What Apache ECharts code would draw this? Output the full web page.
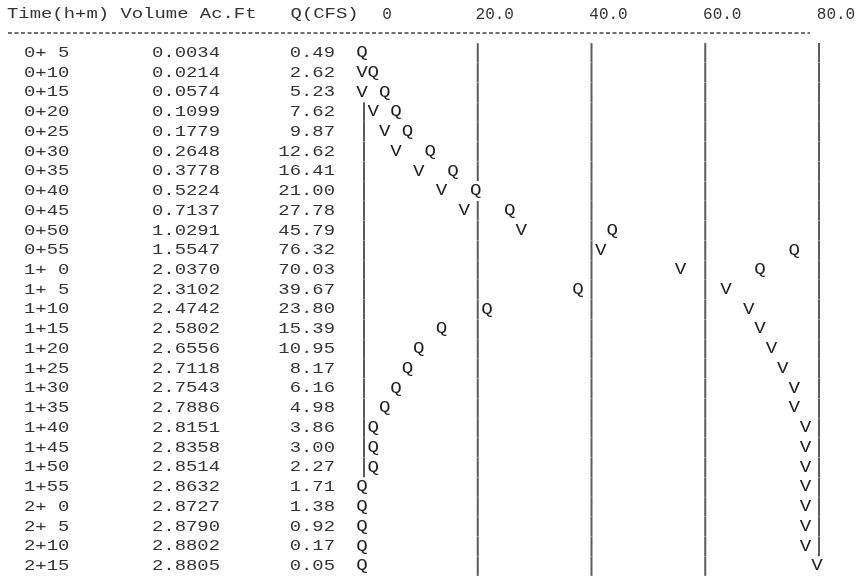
<!DOCTYPE html>
<html>
<head>
<meta charset="utf-8">
<script src="https://cdn.jsdelivr.net/npm/echarts@6/dist/echarts.min.js"></script>
<style>
html,body{margin:0;padding:0;background:#fff;}
#c{width:859px;height:577px;}
</style>
</head>
<body>
<div id="c"></div>
<script>
// ---- data ----
const times = ['0+ 5','0+10','0+15','0+20','0+25','0+30','0+35','0+40','0+45','0+50','0+55',
               '1+ 0','1+ 5','1+10','1+15','1+20','1+25','1+30','1+35','1+40','1+45','1+50','1+55',
               '2+ 0','2+ 5','2+10','2+15'];
const volumes = [0.0034,0.0214,0.0574,0.1099,0.1779,0.2648,0.3778,0.5224,0.7137,1.0291,1.5547,
                 2.0370,2.3102,2.4742,2.5802,2.6556,2.7118,2.7543,2.7886,2.8151,2.8358,2.8514,2.8632,
                 2.8727,2.8790,2.8802,2.8805];
const flows = [0.49,2.62,5.23,7.62,9.87,12.62,16.41,21.00,27.78,45.79,76.32,
               70.03,39.67,23.80,15.39,10.95,8.17,6.16,4.98,3.86,3.00,2.27,1.71,
               1.38,0.92,0.17,0.05];
const xTickLabels = ['0','20.0','40.0','60.0','80.0'];
const headerText = 'Time(h+m) Volume Ac.Ft   Q(CFS)';

// ---- printer-plot character grid: 1 column = 2 CFS, 40 columns full width ----
const FONT = "'Courier New','Liberation Mono',monospace";
const SX = 1.26;
const volMax = Math.max.apply(null, volumes);
const qCol = flows.map(q => Math.floor(q / 2));
const vCol = volumes.map(v => Math.floor(40 * v / volMax));
const qPts = flows.map((q, i) => [qCol[i] * 2, i]);
const vPts = [];
volumes.forEach((v, i) => { if (vCol[i] !== qCol[i]) vPts.push([vCol[i] * 2, i]); });
const barPts = [];
[0, 10, 20, 30, 40].forEach(c => {
  for (let i = 0; i < times.length; i++) {
    if (qCol[i] !== c && vCol[i] !== c) barPts.push([c * 2, i]);
  }
});
const tableRows = times.map((t, i) => [0, i]);

function glyph(ch) {
  return function (params, api) {
    const p = api.coord([api.value(0), api.value(1)]);
    return {
      type: 'text', x: p[0], y: p[1], scaleX: 1.2,
      style: { text: ch, font: '16px ' + FONT, fill: '#1e1e1e', align: 'center', verticalAlign: 'middle' }
    };
  };
}

const chart = echarts.init(document.getElementById('c'), null, { renderer: 'canvas' });
chart.setOption({
  animation: false,
  backgroundColor: '#ffffff',
  grid: [
    { left: 362, width: 455, top: 43, height: 533 },
    { left: 0, width: 360, top: 43, height: 533 }
  ],
  xAxis: [
    {
      gridIndex: 0, type: 'value', min: 0, max: 80, interval: 20, position: 'top',
      axisLine: { show: false }, axisTick: { show: false }, splitLine: { show: false },
      axisLabel: {
        show: true, margin: 20, color: '#333', fontFamily: FONT, fontSize: 16,
        formatter: function (v) {
          const s = xTickLabels[Math.round(v / 20)];
          return v === 0 ? '{z|' + s + '}' : '{n|' + s + '}';
        },
        rich: {
          z: { padding: [0, 0, 0, 50], fontFamily: FONT, fontSize: 16, color: '#333' },
          n: { padding: [0, 0, 0, 38], fontFamily: FONT, fontSize: 16, color: '#333' }
        }
      }
    },
    { gridIndex: 1, type: 'value', min: 0, max: 360, show: false }
  ],
  yAxis: [
    { gridIndex: 0, type: 'category', data: times, inverse: true, show: false },
    { gridIndex: 1, type: 'category', data: times, inverse: true, show: false }
  ],
  graphic: [
    {
      type: 'text', x: 7, y: 14, scaleX: SX,
      style: { text: headerText, font: '15px ' + FONT, fill: '#333', verticalAlign: 'middle' }
    },
    {
      type: 'line', shape: { x1: 8, y1: 33, x2: 810, y2: 33 },
      style: { stroke: '#444', lineWidth: 1.5, lineDash: [4, 2.5] }
    }
  ],
  series: [
    {
      type: 'custom', xAxisIndex: 1, yAxisIndex: 1, data: tableRows,
      renderItem: function (params, api) {
        const i = params.dataIndex;
        const y = api.coord([0, i])[1];
        const st = (txt, align) => ({ text: txt, font: '15px ' + FONT, fill: '#333', align: align, verticalAlign: 'middle' });
        return {
          type: 'group',
          children: [
            { type: 'text', x: 24, y: y, scaleX: SX, style: st(times[i], 'left') },
            { type: 'text', x: 152, y: y, scaleX: SX, style: st(volumes[i].toFixed(4), 'left') },
            { type: 'text', x: 335, y: y, scaleX: SX, style: st(flows[i].toFixed(2), 'right') }
          ]
        };
      }
    },
    {
      type: 'scatter', xAxisIndex: 0, yAxisIndex: 0, data: barPts,
      symbol: 'rect', symbolSize: [2, 19.5], symbolOffset: [2, 0],
      itemStyle: { color: '#333' }, silent: true
    },
    { type: 'custom', xAxisIndex: 0, yAxisIndex: 0, data: vPts, renderItem: glyph('V') },
    { type: 'custom', xAxisIndex: 0, yAxisIndex: 0, data: qPts, renderItem: glyph('Q') }
  ]
});
</script>
</body>
</html>
